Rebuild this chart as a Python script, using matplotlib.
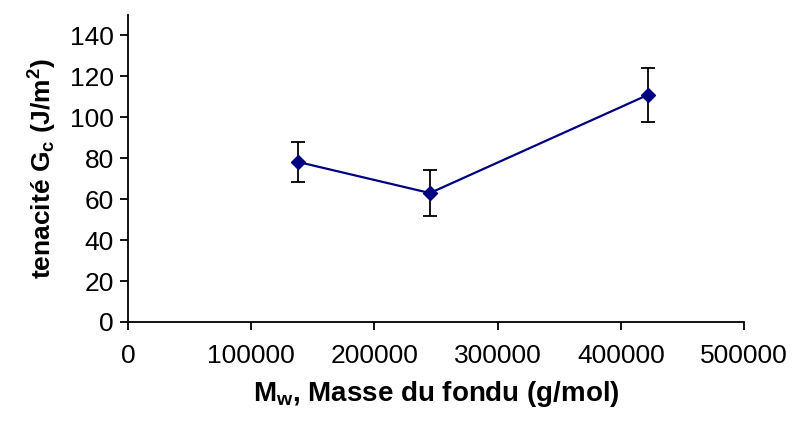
import matplotlib
matplotlib.use('Agg')
import matplotlib.pyplot as plt

# data
masse = [138000, 245000, 422000]
tenacite = [78.2, 63.0, 111.0]
erreur_bas = [9.7, 11.3, 13.3]
erreur_haut = [9.7, 11.2, 13.2]
x_ticks = [0, 100000, 200000, 300000, 400000, 500000]
y_ticks = [0, 20, 40, 60, 80, 100, 120, 140]

plt.rcParams['font.family'] = ['Liberation Sans', 'DejaVu Sans']
plt.rcParams['mathtext.fontset'] = 'custom'
plt.rcParams['mathtext.rm'] = 'Liberation Sans:bold'
plt.rcParams['mathtext.it'] = 'Liberation Sans:bold'
plt.rcParams['mathtext.bf'] = 'Liberation Sans:bold'

fig = plt.figure(figsize=(7.95, 4.24), dpi=100)
ax = fig.add_axes([0.161, 0.2406, 0.775, 0.7240])

ax.errorbar(masse, tenacite, yerr=[erreur_bas, erreur_haut], fmt='none',
            ecolor='black', elinewidth=1.3, capsize=5, capthick=1.3, zorder=2)
ax.plot(masse, tenacite, color='#000080', lw=1.6, marker='D', ms=7.5,
        mfc='#000080', mec='#000080', zorder=3)

ax.set_xlim(0, 500000)
ax.set_ylim(0, 150)
ax.set_xticks(x_ticks)
ax.set_xticklabels([str(v) for v in x_ticks])
ax.set_yticks(y_ticks)

for s in ['top', 'right']:
    ax.spines[s].set_visible(False)
for s in ['left', 'bottom']:
    ax.spines[s].set_linewidth(1.3)

ax.tick_params(axis='both', labelsize=19, width=1.3, length=6, direction='out')
ax.tick_params(axis='x', pad=10)
ax.tick_params(axis='y', pad=4)

ax.set_xlabel(r'M$_\mathrm{w}$, Masse du fondu (g/mol)', fontsize=20,
              fontweight='bold', labelpad=8)
ax.set_ylabel(r'tenacité G$_\mathrm{c}$ (J/m$^\mathrm{2}$)', fontsize=19,
              fontweight='bold', labelpad=8)

fig.savefig('out.png', dpi=100)
